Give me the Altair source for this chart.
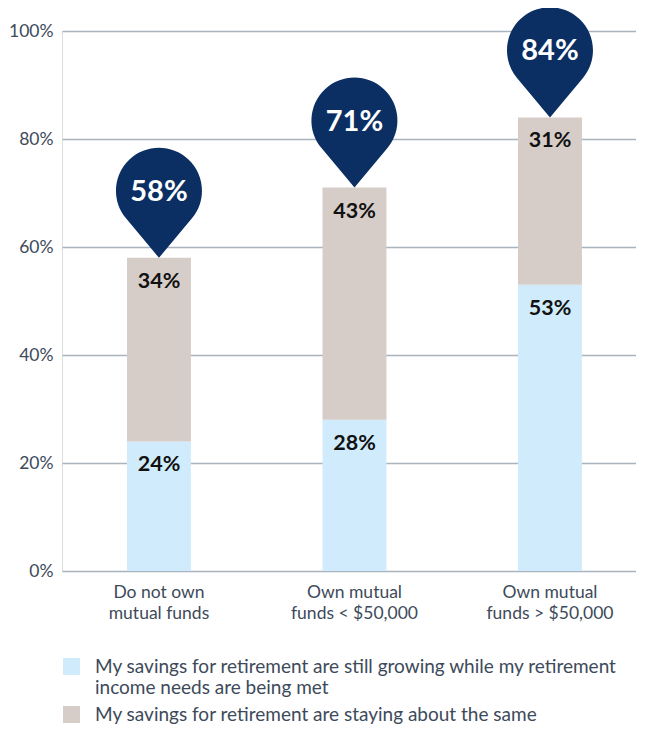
import altair as alt
import pandas as pd

categories = ["Do not own\nmutual funds", "Own mutual\nfunds < $50,000", "Own mutual\nfunds > $50,000"]
series = [
    "My savings for retirement are still growing while my retirement income needs are being met",
    "My savings for retirement are staying about the same",
]
growing = [24, 28, 53]
same = [34, 43, 31]
totals = [58, 71, 84]

colors = ["#d0ecfc", "#d7cdc8"]
navy = "#0b2f63"
FONT = "Lato"
GREY = "#3d4a5a"

rows = []
for i, c in enumerate(categories):
    rows.append({"cat": c, "series": series[0], "order": 0, "value": growing[i], "top": growing[i]})
    rows.append({"cat": c, "series": series[1], "order": 1, "value": same[i], "top": growing[i] + same[i]})
df = pd.DataFrame(rows)
df["label"] = df["value"].astype(str) + "%"

tot = pd.DataFrame({"cat": categories, "total": totals})
tot["label"] = tot["total"].astype(str) + "%"

xenc = alt.X("cat:N", sort=categories, title=None,
             scale=alt.Scale(paddingInner=0.673, paddingOuter=0.3045, align=0.546),
             axis=alt.Axis(labelExpr="split(datum.label, '\\n')", labelAngle=0,
                           labelFontSize=17.5, labelColor=GREY, labelFont=FONT,
                           labelLineHeight=21, labelPadding=12, ticks=False,
                           domain=False, grid=False, labelBaseline="top"))

yscale = alt.Scale(domain=[0, 100], nice=False)

legend_labels = ("datum.label == '" + series[0] + "' ? "
                 "['My savings for retirement are still growing while my retirement', "
                 "'income needs are being met'] : datum.label")

bars = alt.Chart(df).mark_bar().encode(
    x=xenc,
    y=alt.Y("value:Q", stack="zero", scale=yscale, title=None,
            axis=alt.Axis(values=[0, 20, 40, 60, 80, 100], labelExpr="datum.value + '%'",
                          labelFontSize=17.5, labelColor=GREY, labelFont=FONT,
                          ticks=False, domain=False, gridColor="#a9b4bf", gridWidth=1.5,
                          labelPadding=9)),
    color=alt.Color("series:N", sort=series,
                    scale=alt.Scale(domain=series, range=colors),
                    legend=alt.Legend(title=None, orient="none", legendX=0, legendY=626,
                                      direction="vertical", symbolType="square",
                                      symbolSize=289, symbolStrokeWidth=0,
                                      labelFontSize=19, labelFont=FONT, labelColor=GREY,
                                      labelLimit=545, labelOffset=14, rowPadding=7,
                                      labelExpr=legend_labels, labelBaseline="middle",
                                      symbolOffset=0)),
    order=alt.Order("order:Q"),
)

seg_text = alt.Chart(df).mark_text(dy=24, fontSize=21.5, fontWeight="bold", color="#111111",
                                   font=FONT, baseline="middle").encode(
    x=alt.X("cat:N", sort=categories),
    y=alt.Y("top:Q", scale=yscale),
    text="label:N",
)

pin_path = "M0,0 L-0.767,-0.919 A1,1 0 1 1 0.767,-0.919 Z"
pins = alt.Chart(tot).mark_point(shape=pin_path, size=7396, filled=True, color=navy,
                                 opacity=1, strokeWidth=0).encode(
    x=alt.X("cat:N", sort=categories),
    y=alt.Y("total:Q", scale=yscale),
)

pin_text = alt.Chart(tot).mark_text(dy=-66, fontSize=29, fontWeight="bold", color="white",
                                    font=FONT, baseline="middle").encode(
    x=alt.X("cat:N", sort=categories),
    y=alt.Y("total:Q", scale=yscale),
    text="label:N",
)

chart = alt.layer(bars, seg_text, pins, pin_text).properties(
    width=574, height=540,
    padding={"left": 0, "top": -1, "right": 0, "bottom": 0},
).configure_view(stroke=None).configure(background="white")

chart.save("out.html", embed_options={"renderer": "svg", "actions": False})
